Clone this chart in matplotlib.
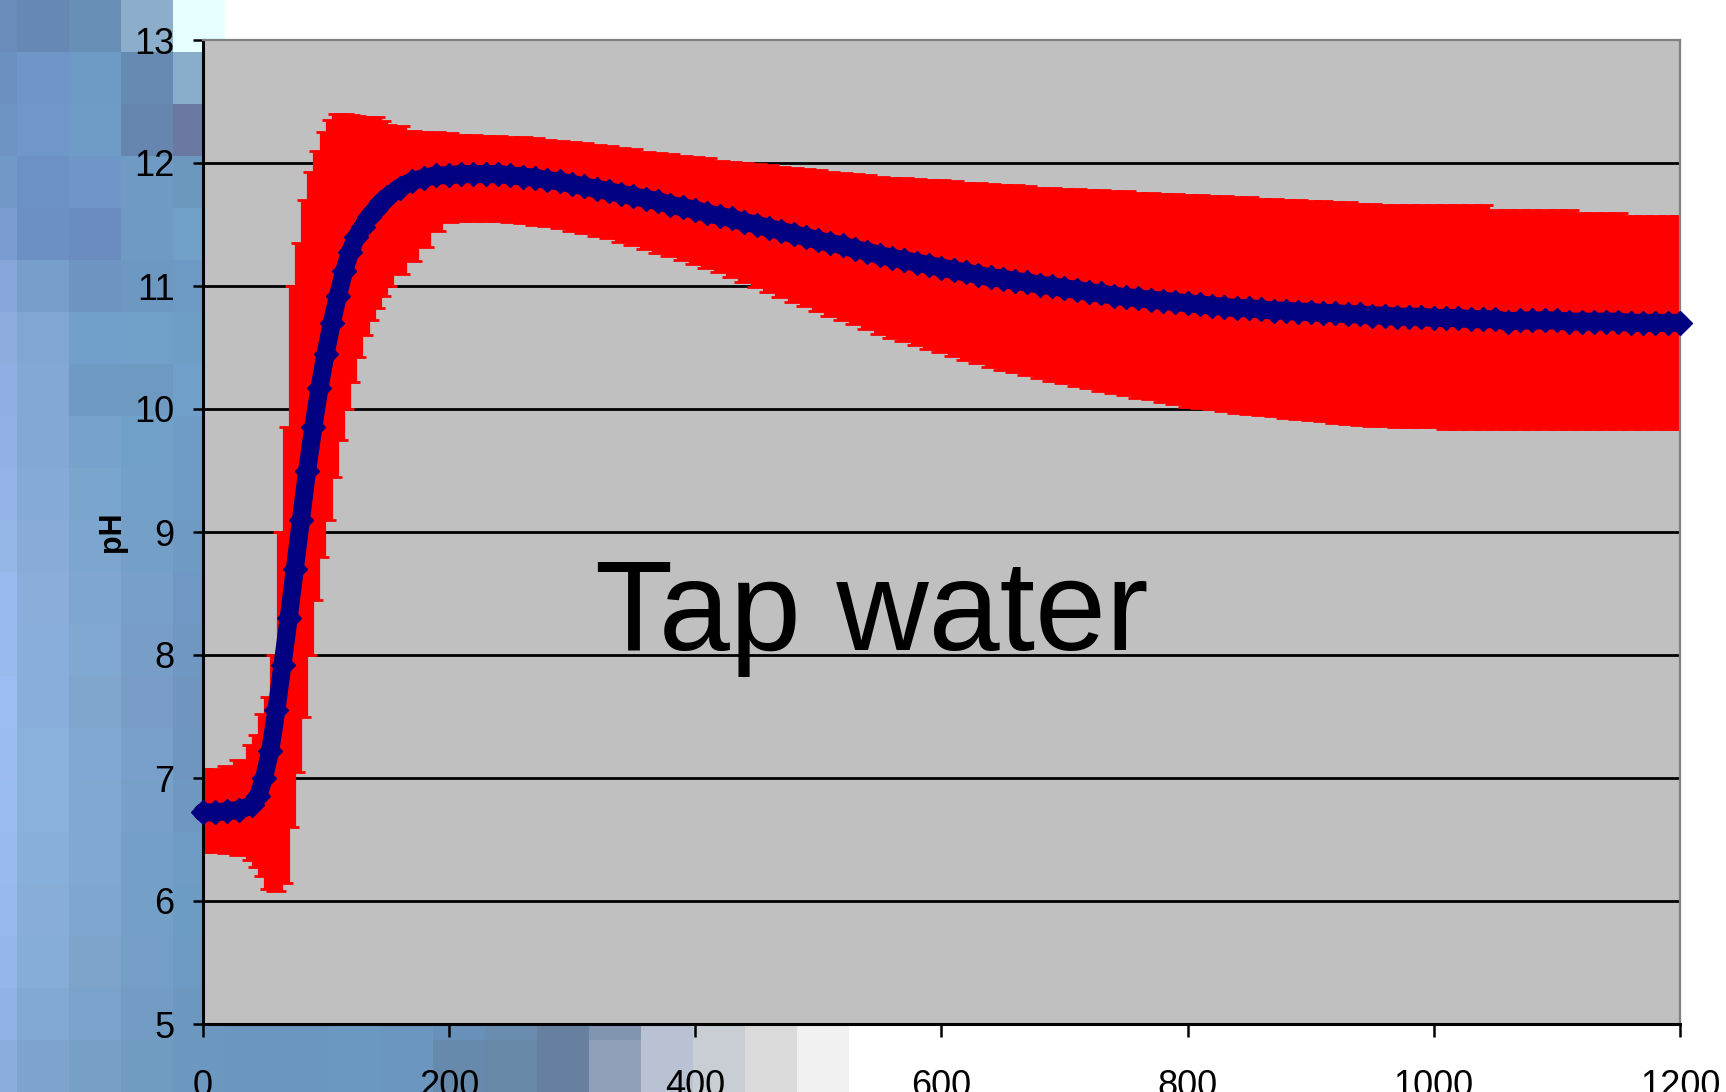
import matplotlib.pyplot as plt
import numpy as np
from matplotlib.colors import to_rgb

plt.rcParams['font.family'] = ['Liberation Sans Narrow', 'Liberation Sans', 'DejaVu Sans']

# sampling times in s (5 s steps through the fast rise)
time = list(range(0, 40, 10)) + list(range(40, 150, 5)) + list(range(150, 1201, 10))

ph_mean = [
    6.72, 6.72, 6.73, 6.74,
    6.78, 6.85, 7.00, 7.22, 7.55, 7.92, 8.30, 8.70, 9.10, 9.50, 9.85,
    10.17, 10.45, 10.70, 10.92, 11.12, 11.28, 11.40, 11.48, 11.56, 11.62, 11.68,
    11.72, 11.80, 11.85, 11.88, 11.90,
    11.90, 11.91, 11.91, 11.91, 11.91, 11.90, 11.89, 11.88, 11.86, 11.85,
    11.83, 11.81, 11.79, 11.77, 11.75, 11.73, 11.71, 11.69, 11.66, 11.64,
    11.62, 11.59, 11.57, 11.55, 11.52, 11.50, 11.47, 11.45, 11.42, 11.40,
    11.37, 11.35, 11.33, 11.30, 11.28, 11.25, 11.23, 11.21, 11.19, 11.17,
    11.15, 11.13, 11.11, 11.09, 11.07, 11.06, 11.04, 11.03, 11.01, 11.00,
    10.98, 10.97, 10.95, 10.94, 10.92, 10.91, 10.90, 10.89, 10.88, 10.87,
    10.86, 10.85, 10.84, 10.83, 10.82, 10.82, 10.81, 10.80, 10.80, 10.79,
    10.79, 10.78, 10.78, 10.77, 10.77, 10.76, 10.76, 10.75, 10.75, 10.75,
    10.74, 10.74, 10.74, 10.73, 10.73, 10.73, 10.71, 10.72, 10.72, 10.72,
    10.72, 10.71, 10.71, 10.71, 10.71, 10.71, 10.70, 10.70, 10.70, 10.70,
    10.70,
]

ph_upper = [
    7.07, 7.07, 7.10, 7.15,
    7.27, 7.35, 7.52, 7.66, 8.00, 9.00, 9.85, 11.00, 11.35, 11.70, 11.93,
    12.10, 12.25, 12.35, 12.40, 12.40, 12.39, 12.38, 12.37, 12.37, 12.37, 12.34,
    12.31, 12.30, 12.26, 12.25, 12.25,
    12.24, 12.23, 12.23, 12.22, 12.22, 12.21, 12.21, 12.20, 12.19, 12.18,
    12.17, 12.16, 12.15, 12.14, 12.12, 12.11, 12.09, 12.08, 12.07, 12.06,
    12.05, 12.04, 12.02, 12.01, 12.00, 11.99, 11.98, 11.97, 11.96, 11.95,
    11.94, 11.93, 11.92, 11.91, 11.90, 11.89, 11.88, 11.88, 11.87, 11.86,
    11.86, 11.85, 11.84, 11.84, 11.83, 11.82, 11.82, 11.81, 11.80, 11.80,
    11.79, 11.79, 11.78, 11.78, 11.77, 11.77, 11.76, 11.76, 11.75, 11.75,
    11.74, 11.74, 11.73, 11.73, 11.72, 11.72, 11.71, 11.71, 11.70, 11.70,
    11.69, 11.69, 11.68, 11.68, 11.67, 11.67, 11.66, 11.66, 11.66, 11.66,
    11.66, 11.66, 11.66, 11.66, 11.66, 11.62, 11.62, 11.62, 11.62, 11.62,
    11.62, 11.62, 11.59, 11.59, 11.59, 11.59, 11.57, 11.57, 11.57, 11.57,
    11.57,
]

ph_lower = [
    6.40, 6.40, 6.39, 6.37,
    6.33, 6.28, 6.20, 6.10, 6.08, 6.15, 6.60, 7.05, 7.50, 8.00, 8.45,
    8.80, 9.10, 9.45, 9.75, 10.00, 10.22, 10.42, 10.60, 10.72, 10.82, 10.92,
    11.00, 11.10, 11.20, 11.32, 11.45,
    11.52, 11.53, 11.53, 11.53, 11.53, 11.52, 11.51, 11.50, 11.49, 11.47,
    11.45, 11.43, 11.41, 11.39, 11.36, 11.33, 11.30, 11.27, 11.24, 11.21,
    11.18, 11.15, 11.11, 11.07, 11.03, 10.99, 10.95, 10.91, 10.87, 10.84,
    10.80, 10.76, 10.72, 10.69, 10.65, 10.61, 10.58, 10.55, 10.52, 10.49,
    10.46, 10.43, 10.40, 10.37, 10.34, 10.32, 10.30, 10.28, 10.25, 10.23,
    10.21, 10.19, 10.17, 10.15, 10.13, 10.11, 10.09, 10.08, 10.06, 10.04,
    10.02, 10.01, 10.00, 9.98, 9.97, 9.96, 9.95, 9.94, 9.93, 9.92,
    9.91, 9.90, 9.89, 9.88, 9.87, 9.86, 9.86, 9.85, 9.85, 9.85,
    9.85, 9.84, 9.84, 9.84, 9.84, 9.84, 9.84, 9.84, 9.84, 9.84,
    9.84, 9.84, 9.84, 9.84, 9.84, 9.84, 9.84, 9.84, 9.84, 9.84,
    9.84,
]

x_ticks = [0, 200, 400, 600, 800, 1000, 1200]
y_ticks = [5, 6, 7, 8, 9, 10, 11, 12, 13]

# blocky blue backdrop of the slide (52 px cells), left strip: 21 rows x 5 cols
bg_left = [
    ['#6A8CBA', '#6888B4', '#6890B6', '#8DAECA', '#E6FFFF'],
    ['#6C90C0', '#6E96C6', '#6C9AC4', '#668AB2', '#88ACCA'],
    ['#6E94C4', '#6F98C8', '#6E9CC6', '#6686B0', '#6A78A2'],
    ['#7099C8', '#6C92C4', '#6E96C6', '#6E9AC4', '#6C98BE'],
    ['#7A9CD0', '#6C90C4', '#6A8CBE', '#6E9AC4', '#70A0C8'],
    ['#88A6DA', '#789ECC', '#6E94C2', '#6C98C2', '#6C9AC4'],
    ['#8EACDE', '#82A6D4', '#70A0CA', '#70A0C8', '#6E9EC6'],
    ['#90AEE2', '#84A8D6', '#6F9AC4', '#6E9AC2', '#70A0CA'],
    ['#92B0E4', '#84A8D6', '#76A2CC', '#70A0C8', '#6E9CC6'],
    ['#94B2E6', '#86AAD8', '#7AA6CE', '#72A0C8', '#6E9CC6'],
    ['#96B6E8', '#88ABD8', '#7CA6CE', '#74A0C8', '#6E9AC4'],
    ['#9AB9EE', '#8AADDA', '#7EA6CE', '#76A0C8', '#7098C4'],
    ['#9ABAEE', '#8AAEDB', '#80A8D0', '#789EC8', '#7096C2'],
    ['#9DBDF2', '#8AAEDC', '#80A6CE', '#789CC6', '#7096C0'],
    ['#9CBCF0', '#8AB0DC', '#80A8D2', '#78A0CA', '#6E96BE'],
    ['#9ABCEE', '#8AB0DC', '#80A8D0', '#76A0C8', '#6E98C0'],
    ['#98BAEC', '#88AEDA', '#80A8D0', '#74A0C8', '#6E9CC4'],
    ['#96B8EA', '#88AED8', '#7EA6CE', '#74A0C8', '#6C9CC4'],
    ['#94B6E8', '#86ACD8', '#7EA4CC', '#749EC6', '#6C9AC2'],
    ['#90B2E4', '#82A8D4', '#7AA2CA', '#729CC4', '#6C98C0'],
    ['#8CACDE', '#7EA4CE', '#76A0C6', '#709CC2', '#6C98C0'],
]
# bottom strip, last two rows, columns 5..16
bg_bottom = [
    ['#6A96C0', '#6A96BF', '#6B98C1', '#6B96BF', '#6891B9', '#6A8CB0',
     '#68809F', '#8194B0', '#B8C2D2', '#C9CDD4', '#DBDBDB', '#F1F1F1'],
    ['#6A96C0', '#6A96BF', '#6B98C1', '#6B96BF', '#6789AC', '#6888A8',
     '#68809F', '#90A0B8', '#B8C2D2', '#C9CDD4', '#DBDBDB', '#F1F1F1'],
]

W, H = 1726, 1092
fig = plt.figure(figsize=(W / 100, H / 100), dpi=100)
fig.patch.set_facecolor('white')

cells = np.ones((21, 34, 3))
for r, row in enumerate(bg_left):
    for c, col in enumerate(row):
        cells[r, c] = to_rgb(col)
for r, row in enumerate(bg_bottom):
    for c, col in enumerate(row):
        cells[19 + r, 5 + c] = to_rgb(col)

bg = fig.add_axes([0, 0, 1, 1], zorder=0)
bg.imshow(cells, extent=[-35, -35 + 52 * 34, H, 0], interpolation='nearest', aspect='auto')
bg.set_xlim(0, W)
bg.set_ylim(H, 0)
bg.axis('off')

ax = fig.add_axes([202.5 / W, (H - 1024) / H, (1680 - 202.5) / W, (1024 - 40) / H], zorder=1)
ax.set_facecolor('#C0C0C0')

for y in y_ticks[1:-1]:
    ax.axhline(y, color='black', lw=2, zorder=1)

lo = [m - l for m, l in zip(ph_mean, ph_lower)]
hi = [u - m for m, u in zip(ph_mean, ph_upper)]
eb = ax.errorbar(time, ph_mean, yerr=[lo, hi], fmt='none', ecolor='red',
                 elinewidth=9.5, capsize=7, capthick=2, zorder=2)
eb.lines[2][0].set_capstyle('butt')

ax.plot(time, ph_mean, color='#000080', lw=13, marker='D', ms=12, mew=1,
        solid_joinstyle='round', solid_capstyle='round', clip_on=False, zorder=3)

ax.text(319, 8.04, 'Tap water', fontsize=92, family=['Liberation Sans', 'DejaVu Sans'],
        ha='left', va='baseline', zorder=4)

ax.set_xlim(0, 1200)
ax.set_ylim(5, 13)
ax.set_xticks(x_ticks)
ax.set_yticks(y_ticks)
ax.tick_params(axis='y', direction='out', length=7, width=1.8, pad=13, labelsize=26)
ax.tick_params(axis='x', direction='out', length=9.5, width=1.8, pad=23, labelsize=26)

ax.set_ylabel('pH', fontsize=22, fontweight='bold', family=['Liberation Sans', 'DejaVu Sans'])
ax.yaxis.set_label_coords(-0.051, 0.5)

for side in ['left', 'bottom']:
    ax.spines[side].set_color('black')
    ax.spines[side].set_linewidth(2.2)
for side in ['top', 'right']:
    ax.spines[side].set_color('#808080')
    ax.spines[side].set_linewidth(1.6)

fig.savefig('out.png', dpi=100)
